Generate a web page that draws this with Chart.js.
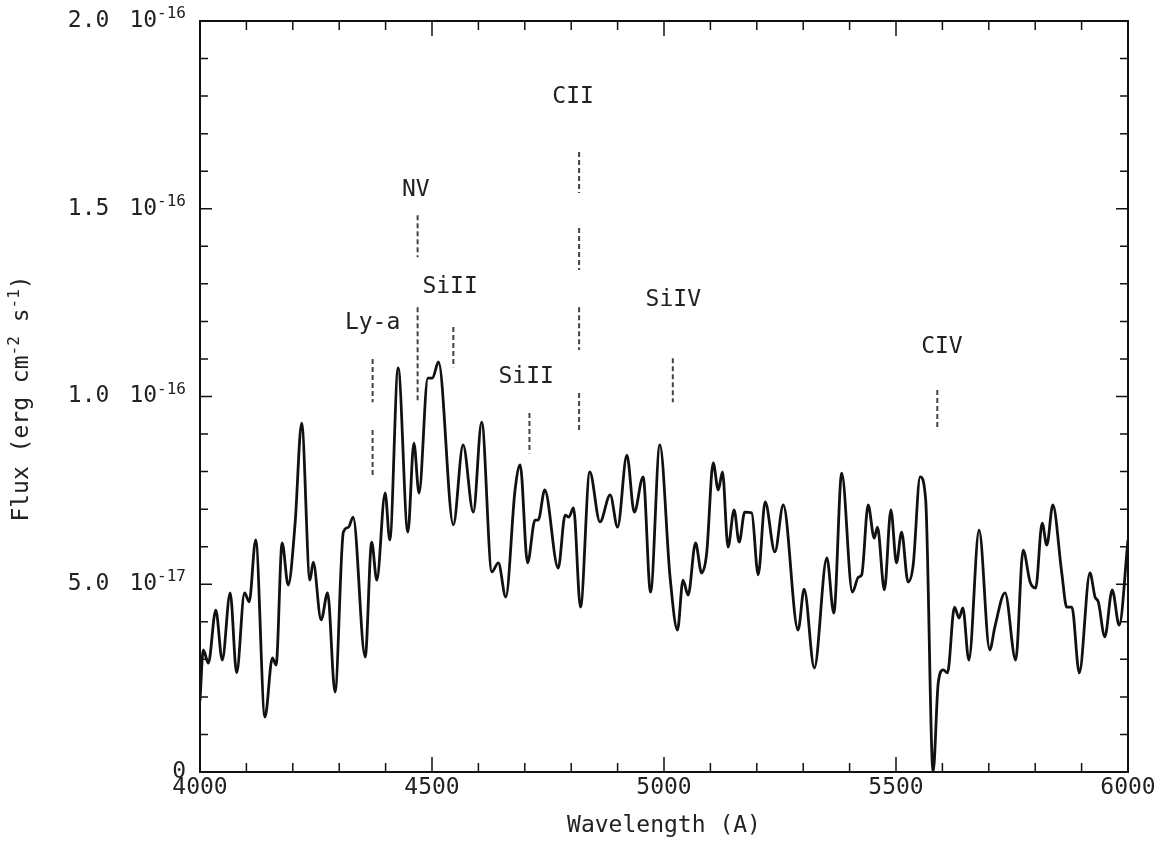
<!DOCTYPE html>
<html>
<head>
<meta charset="utf-8">
<script src="https://cdn.jsdelivr.net/npm/chart.js@4/dist/chart.umd.min.js"></script>
<style>
  html, body { margin: 0; background: #fff; }
</style>
</head>
<body>
<canvas id="spec" width="1162" height="846"></canvas>
<script>
// Spectrum — flux in units of 1e-17 erg cm^-2 s^-1
const wavelength = [4000, 4007, 4018, 4034, 4048, 4065, 4079, 4096, 4106, 4120, 4140, 4156, 4164, 4177, 4190, 4205, 4219, 4237, 4244, 4261,
  4275, 4291, 4309, 4320, 4330, 4356, 4370, 4381, 4399, 4409, 4427, 4448, 4461, 4472, 4491, 4501, 4514, 4546, 4567, 4589,
  4607, 4629, 4643, 4659, 4679, 4690, 4706, 4722, 4729, 4743, 4772, 4787, 4795, 4805, 4820, 4840, 4862, 4884, 4900, 4920,
  4936, 4955, 4971, 4991, 5013, 5029, 5041, 5052, 5068, 5081, 5092, 5106, 5117, 5126, 5138, 5151, 5162, 5174, 5189, 5203,
  5218, 5239, 5257, 5289, 5302, 5324, 5351, 5366, 5383, 5406, 5419, 5426, 5440, 5453, 5460, 5475, 5489, 5501, 5512, 5526,
  5537, 5552, 5564, 5580, 5591, 5602, 5611, 5626, 5636, 5644, 5657, 5679, 5702, 5713, 5735, 5758, 5774, 5789, 5801, 5815,
  5825, 5838, 5857, 5868, 5879, 5895, 5918, 5929, 5936, 5950, 5966, 5981, 6000];
const flux = [1.9, 3.25, 2.9, 4.31, 2.98, 4.77, 2.64, 4.77, 4.53, 6.18, 1.46, 3.04, 2.85, 6.10, 4.98, 6.63, 9.29, 5.11, 5.59, 4.05,
  4.77, 2.13, 6.39, 6.52, 6.79, 3.06, 6.12, 5.11, 7.43, 6.18, 10.76, 6.39, 8.76, 7.43, 10.49, 10.49, 10.92, 6.58, 8.71, 6.92,
  9.32, 5.33, 5.57, 4.66, 7.51, 8.18, 5.57, 6.71, 6.71, 7.51, 5.43, 6.84, 6.79, 7.03, 4.39, 7.99, 6.66, 7.38, 6.52, 8.44,
  6.92, 7.86, 4.79, 8.71, 5.2, 3.78, 5.11, 4.71, 6.10, 5.30, 5.83, 8.23, 7.51, 7.99, 5.99, 6.98, 6.12, 6.92, 6.90, 5.25,
  7.19, 5.86, 7.11, 3.78, 4.87, 2.77, 5.70, 4.23, 7.96, 4.79, 5.19, 5.25, 7.11, 6.23, 6.52, 4.85, 6.98, 5.57, 6.39, 5.06,
  5.51, 7.86, 7.24, 0, 2.37, 2.72, 2.64, 4.39, 4.10, 4.37, 2.98, 6.44, 3.25, 3.86, 4.77, 2.98, 5.91, 5.06, 4.90, 6.63,
  6.04, 7.11, 5.33, 4.39, 4.39, 2.64, 5.30, 4.66, 4.53, 3.60, 4.85, 3.91, 6.18];

// Line identifications: dashed marker segments [top, bottom] and label anchor
const lineNames = ['Ly-a', 'NV', 'SiII', 'SiII', 'CII', 'SiIV', 'CIV'];
const lineWave = [4372, 4469, 4546, 4710, 4817, 5019, 5589];
const lineSegments = [
  [[11.0, 9.85], [9.11, 7.91]],
  [[14.83, 13.71], [12.38, 9.85]],
  [[11.85, 10.78]],
  [[9.56, 8.49]],
  [[16.51, 15.42], [14.49, 13.37], [12.38, 11.24], [10.09, 9.03]],
  [[11.02, 9.85]],
  [[10.17, 9.11]]
];
const labelWave = [4372, 4465, 4539, 4703, 4804, 5020, 5599];
const labelFlux = [11.96, 15.5, 12.92, 10.52, 17.98, 12.57, 11.32];

// Axes
const xTickValues = [4000, 4500, 5000, 5500, 6000];
const xTickLabels = ['4000', '4500', '5000', '5500', '6000'];
const yTickValues = [0, 5, 10, 15, 20];
const yTickMantissa = ['0', '5.0', '1.0', '1.5', '2.0'];
const yTickExponent = ['', '-17', '-16', '-16', '-16'];

const FONT = '"DejaVu Sans Mono", monospace';
const TEXT = '#222';

function markerData(i) {
  const pts = [];
  lineSegments[i].forEach(([a, b]) => {
    pts.push({ x: lineWave[i], y: a }, { x: lineWave[i], y: b }, { x: lineWave[i], y: null });
  });
  return pts;
}

// text pieces: [text, isSup] or a number = blank gap in px
function partsWidth(ctx, parts) {
  let w = 0;
  parts.forEach(p => {
    if (typeof p === 'number') { w += p; return; }
    ctx.font = (p[1] ? '16px ' : '23px ') + FONT;
    w += ctx.measureText(p[0]).width;
  });
  return w;
}
function drawParts(ctx, parts, x, y) {
  parts.forEach(p => {
    if (typeof p === 'number') { x += p; return; }
    ctx.font = (p[1] ? '16px ' : '23px ') + FONT;
    ctx.fillText(p[0], x, p[1] ? y - 7 : y);
    x += ctx.measureText(p[0]).width;
  });
}

const framePlugin = {
  id: 'frame',
  afterDraw(chart) {
    const { ctx, chartArea: a, scales: { x, y } } = chart;
    ctx.save();
    ctx.strokeStyle = '#111';
    ctx.lineWidth = 2;
    ctx.strokeRect(a.left, a.top, a.right - a.left, a.bottom - a.top);

    ctx.lineWidth = 1.5;
    ctx.beginPath();
    for (let v = 4000; v <= 6000; v += 100) {
      const px = x.getPixelForValue(v);
      const len = v % 500 === 0 ? 15 : 9;
      ctx.moveTo(px, a.bottom); ctx.lineTo(px, a.bottom - len);
      ctx.moveTo(px, a.top); ctx.lineTo(px, a.top + len);
    }
    for (let v = 0; v <= 20; v += 1) {
      const py = y.getPixelForValue(v);
      const len = v % 5 === 0 ? 12 : 8;
      ctx.moveTo(a.left, py); ctx.lineTo(a.left + len, py);
      ctx.moveTo(a.right, py); ctx.lineTo(a.right - len, py);
    }
    ctx.stroke();

    ctx.fillStyle = TEXT;
    ctx.textBaseline = 'middle';
    ctx.textAlign = 'left';

    // y tick labels
    yTickValues.forEach((v, i) => {
      const py = y.getPixelForValue(v);
      const parts = [[yTickMantissa[i], false]];
      if (yTickExponent[i]) parts.push(20, ['10', false], [yTickExponent[i], true]);
      const w = partsWidth(ctx, parts);
      drawParts(ctx, parts, a.left - 14 - w, py);
    });

    // x tick labels
    ctx.font = '23px ' + FONT;
    ctx.textAlign = 'center';
    ctx.textBaseline = 'top';
    xTickValues.forEach((v, i) => {
      ctx.fillText(xTickLabels[i], x.getPixelForValue(v), a.bottom + 5);
    });

    // axis titles
    ctx.textBaseline = 'middle';
    ctx.fillText('Wavelength (A)', (a.left + a.right) / 2, 826);

    ctx.save();
    ctx.translate(22, (a.top + a.bottom) / 2 + 2);
    ctx.rotate(-Math.PI / 2);
    ctx.textAlign = 'left';
    const tParts = [['Flux (erg cm', false], ['-2', true], [' s', false], ['-1', true], [')', false]];
    drawParts(ctx, tParts, -partsWidth(ctx, tParts) / 2, 0);
    ctx.restore();

    // line labels
    ctx.font = '23px ' + FONT;
    ctx.textAlign = 'center';
    lineNames.forEach((n, i) => {
      ctx.fillText(n, x.getPixelForValue(labelWave[i]), y.getPixelForValue(labelFlux[i]));
    });
    ctx.restore();
  }
};

document.addEventListener('DOMContentLoaded', () => {
  const datasets = [
    {
      data: wavelength.map((w, i) => ({ x: w, y: flux[i] })),
      borderColor: '#111', borderWidth: 2.8, pointRadius: 0,
      cubicInterpolationMode: 'monotone'
    },
    ...lineNames.map((n, i) => ({
      data: markerData(i),
      borderColor: '#444', borderWidth: 2, borderDash: [5, 3], pointRadius: 0, spanGaps: false
    }))
  ];

  new Chart(document.getElementById('spec'), {
    type: 'line',
    data: { datasets },
    options: {
      responsive: false,
      animation: false,
      layout: { padding: { left: 200, right: 34, top: 21, bottom: 74 } },
      plugins: { legend: { display: false }, tooltip: { enabled: false } },
      scales: {
        x: { type: 'linear', display: false, min: 4000, max: 6000 },
        y: { type: 'linear', display: false, min: 0, max: 20 }
      }
    },
    plugins: [framePlugin]
  });
});
</script>
</body>
</html>
